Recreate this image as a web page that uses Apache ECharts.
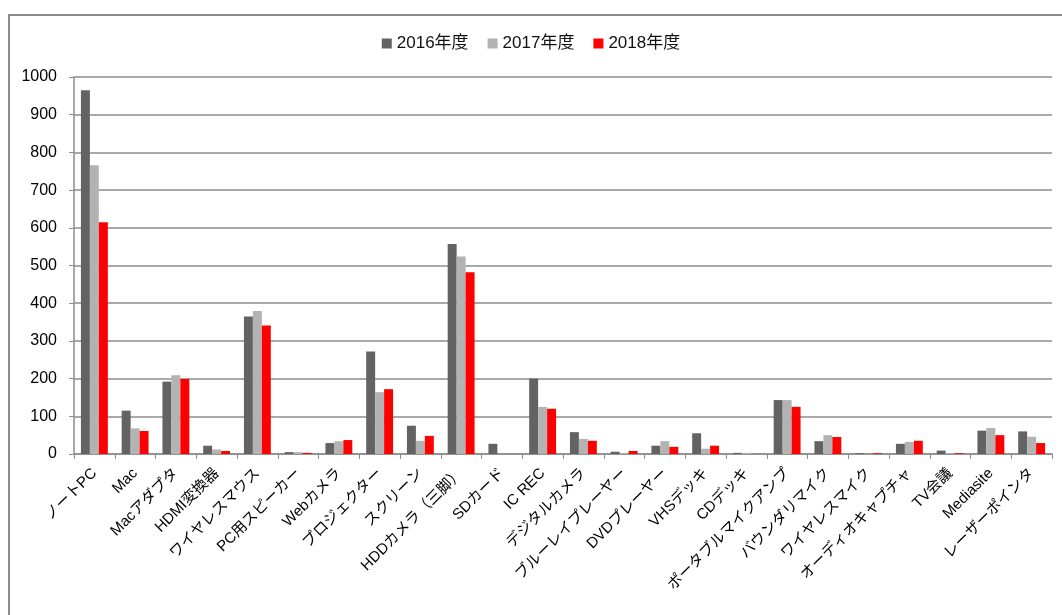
<!DOCTYPE html>
<html><head><meta charset="utf-8">
<script src="https://cdn.jsdelivr.net/npm/echarts@6/dist/echarts.min.js"></script>
<style>
html,body{margin:0;padding:0;background:#fff;}
#frame{position:absolute;left:8px;top:14px;width:1060px;height:610px;border:2px solid #8c8c8c;box-sizing:border-box;}
#c{position:absolute;left:0;top:0;width:1062px;height:615px;}
</style>
</head><body>
<div id="frame"></div>
<div id="c"></div>
<script>
const categories = ['ノートPC','Mac','Macアダプタ','HDMI変換器','ワイヤレスマウス','PC用スピーカー','Webカメラ','プロジェクター','スクリーン','HDDカメラ（三脚）','SDカード','IC REC','デジタルカメラ','ブルーレイプレーヤー','DVDプレーヤー','VHSデッキ','CDデッキ','ポータブルマイクアンプ','バウンダリマイク','ワイヤレスマイク','オーディオキャプチャ','TV会議','Mediasite','レーザーポインタ'];
const seriesNames = ['2016年度','2017年度','2018年度'];
const v2016 = [965,115,192,22,365,5,29,272,75,557,27,200,58,6,22,55,3,143,34,2,27,9,62,60];
const v2017 = [766,68,209,12,379,5,34,164,35,524,0,125,40,3,34,14,3,143,50,0,32,2,69,46];
const v2018 = [615,61,199,8,341,3,37,172,48,482,0,120,35,8,19,22,0,125,45,2,35,2,50,29];
const yTicks = [0,100,200,300,400,500,600,700,800,900,1000];
const colors = ['#636363','#b3b3b3','#ff0000'];

const font = "'Liberation Sans','Noto Sans CJK JP',sans-serif";
const chart = echarts.init(document.getElementById('c'));
const data = [v2016, v2017, v2018];
chart.setOption({
  animation:false,
  textStyle:{fontFamily:font},
  legend:{
    top:30, left:'center', itemWidth:10, itemHeight:10, itemGap:19,
    textStyle:{fontSize:17,color:'#111',fontFamily:font,padding:[0,0,0,0]},
    icon:'rect', data:seriesNames
  },
  grid:{left:74,right:10,top:77,bottom:161,containLabel:false},
  xAxis:{
    type:'category', data:categories,
    axisLine:{lineStyle:{color:'#8c8c8c',width:1.5}},
    axisTick:{show:true,alignWithLabel:false,length:5,lineStyle:{color:'#8c8c8c'}},
    axisLabel:{rotate:45,interval:0,fontSize:15,color:'#000',margin:17,fontFamily:font}
  },
  yAxis:{
    type:'value', min:yTicks[0], max:yTicks[yTicks.length-1], interval:100,
    axisLine:{show:true,lineStyle:{color:'#8c8c8c',width:1.5}},
    axisTick:{show:true,inside:false,length:5,lineStyle:{color:'#8c8c8c'}},
    splitLine:{lineStyle:{color:'#8c8c8c',width:1.5}},
    axisLabel:{fontSize:16,color:'#000',margin:17,fontFamily:font,formatter:v=>String(v)}
  },
  series: seriesNames.map((n,i)=>({
    name:n, type:'bar', data:data[i], barGap:'0%', barCategoryGap:'34%',
    itemStyle:{color:colors[i]}
  }))
});
</script>
</body></html>
